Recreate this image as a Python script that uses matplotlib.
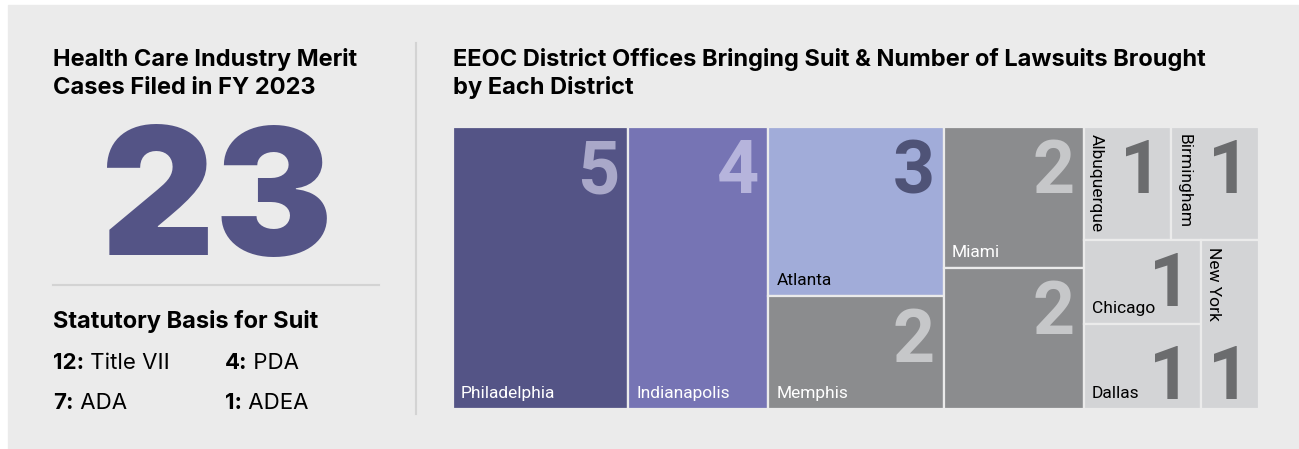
import matplotlib
matplotlib.use("Agg")
import matplotlib.pyplot as plt
from matplotlib import font_manager
from matplotlib.patches import Rectangle

# Dados do treemap
districts = ["Philadelphia", "Indianapolis", "Atlanta", "Memphis", "Miami", "",
             "Albuquerque", "Birmingham", "Chicago", "Dallas", "New York"]
lawsuits = [5, 4, 3, 2, 2, 2, 1, 1, 1, 1, 1]

total_cases = 23
basis_counts = ["12:", "4:", "7:", "1:"]
basis_names = ["Title VII", "PDA", "ADA", "ADEA"]

# Estrutura do treemap: "h" divide a largura, "v" divide a altura
layout = ("h", [0, 1, ("v", [2, 3]), ("v", [4, 5]),
                ("v", [("h", [6, 7]), ("h", [("v", [8, 9]), 10])])])

# Estilo
BG = "#ebebeb"
PURPLE = "#545486"
fills = ["#545486", "#7674b4", "#a1acd9", "#8b8c8e", "#8b8c8e", "#8b8c8e",
         "#d3d4d6", "#d3d4d6", "#d3d4d6", "#d3d4d6", "#d3d4d6"]
num_colors = ["#a9a8c9", "#b6b4dc", "#4f5377", "#c6c7c9", "#c6c7c9", "#c6c7c9",
              "#6b6c6e", "#6b6c6e", "#6b6c6e", "#6b6c6e", "#6b6c6e"]
label_colors = ["white"] * 2 + ["black"] + ["white"] * 3 + ["black"] * 5
rotated = [False] * 6 + [True, True, False, False, True]
num_bottom = [False] * 9 + [True, True]

W, H = 1299, 449
TITLE_FONT = "Inter"
installed = {f.name for f in font_manager.fontManager.ttflist}
NARROW = "Liberation Sans Narrow" if "Liberation Sans Narrow" in installed else "Roboto"
LABEL_SIZE = 13.5 if NARROW == "Liberation Sans Narrow" else 12.5
NUM_SIZE = 55 if NARROW == "Liberation Sans Narrow" else 53


def node_total(node):
    if isinstance(node, int):
        return lawsuits[node]
    return sum(node_total(c) for c in node[1])


def split(node, x, y, w, h, out):
    if isinstance(node, int):
        out[node] = (x, y, w, h)
        return
    direction, children = node
    tot = node_total(node)
    for c in children:
        f = node_total(c) / tot
        if direction == "h":
            split(c, x, y, w * f, h, out)
            x += w * f
        else:
            split(c, x, y, w, h * f, out)
            y += h * f


fig = plt.figure(figsize=(W / 100, H / 100), dpi=100, facecolor="white")

# camada de fundo / textos em pixels
bg = fig.add_axes([0, 0, 1, 1])
bg.set_xlim(0, W)
bg.set_ylim(H, 0)
bg.axis("off")
bg.add_patch(Rectangle((8, 5), W - 8, H - 5, color=BG, zorder=0))

bg.text(53, 66, "Health Care Industry Merit", fontsize=17, fontweight="bold",
        family=TITLE_FONT, va="baseline")
bg.text(53, 94, "Cases Filed in FY 2023", fontsize=17, fontweight="bold",
        family=TITLE_FONT, va="baseline")
bg.text(217, 255, str(total_cases), fontsize=127, fontweight="black",
        family=TITLE_FONT, color=PURPLE, ha="center", va="baseline")
bg.plot([53, 379], [285, 285], color="#d3d3d3", lw=1.5)
bg.plot([416, 416], [43, 414], color="#d3d3d3", lw=1.5)
bg.text(53, 328, "Statutory Basis for Suit", fontsize=17, fontweight="bold",
        family=TITLE_FONT, va="baseline")
for i, (c, n) in enumerate(zip(basis_counts, basis_names)):
    x = 53 if i % 2 == 0 else 225
    y = 369 if i < 2 else 409
    t = bg.text(x, y, c, fontsize=16, fontweight="bold", family=TITLE_FONT,
                va="baseline")
    bg.annotate(" " + n, xy=(1, 0), xycoords=t, fontsize=16, family=TITLE_FONT,
                va="bottom", ha="left")

bg.text(453, 66, "EEOC District Offices Bringing Suit & Number of Lawsuits Brought",
        fontsize=17, fontweight="bold", family=TITLE_FONT, va="baseline")
bg.text(453, 94, "by Each District", fontsize=17, fontweight="bold",
        family=TITLE_FONT, va="baseline")

# treemap
x0, y0, x1, y1 = 453, 127, 1259, 409
ax = fig.add_axes([x0 / W, 1 - y1 / H, (x1 - x0) / W, (y1 - y0) / H])
ax.set_xlim(0, 1)
ax.set_ylim(1, 0)
ax.axis("off")

rects = {}
split(layout, 0, 0, 1, 1, rects)
PT = 0.72  # pontos por pixel
for i, name in enumerate(districts):
    x, y, w, h = rects[i]
    ax.add_patch(Rectangle((x, y), w, h, facecolor=fills[i], edgecolor=BG, lw=1.6))
    # número
    if num_bottom[i]:
        ax.annotate(str(lawsuits[i]), xy=(x + w, y + h), xytext=(-9 * PT, 10 * PT),
                    textcoords="offset points", ha="right", va="baseline",
                    fontsize=NUM_SIZE, fontweight="bold", family=NARROW,
                    color=num_colors[i])
    else:
        ax.annotate(str(lawsuits[i]), xy=(x + w, y), xytext=(-9 * PT, -66 * PT),
                    textcoords="offset points", ha="right", va="baseline",
                    fontsize=NUM_SIZE, fontweight="bold", family=NARROW,
                    color=num_colors[i])
    # nome
    if not name:
        continue
    if rotated[i]:
        ax.annotate(name, xy=(x, y), xytext=(5 * PT, -7 * PT), textcoords="offset points",
                    rotation=-90, rotation_mode="anchor", ha="left", va="bottom",
                    fontsize=LABEL_SIZE, family=NARROW, color=label_colors[i])
    else:
        ax.annotate(name, xy=(x, y + h), xytext=(8 * PT, 11 * PT), textcoords="offset points",
                    ha="left", va="baseline", fontsize=LABEL_SIZE, family=NARROW,
                    color=label_colors[i])

fig.savefig("out.png", dpi=100, facecolor="white")
